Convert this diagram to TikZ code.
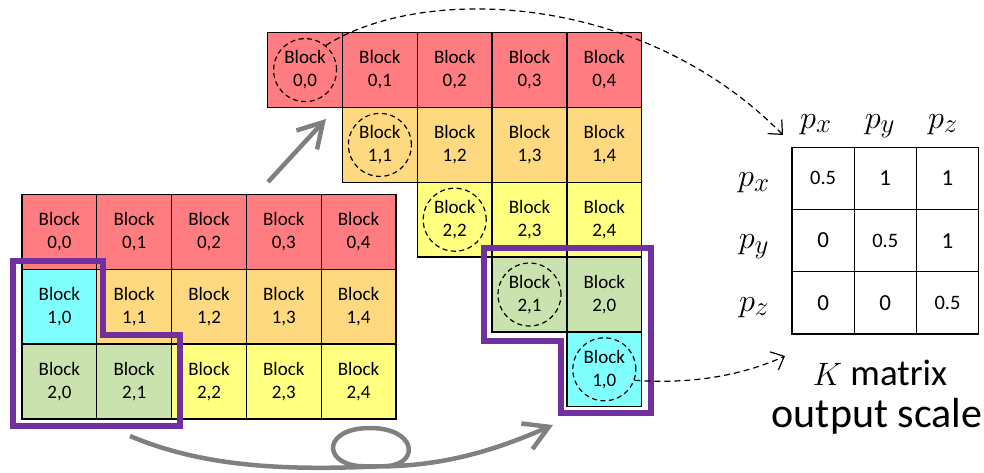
\documentclass[tikz,border=0pt]{standalone}
\usepackage{graphicx}
\usepackage{fontspec}
\setmainfont{Carlito}
\usetikzlibrary{arrows.meta}

\definecolor{blkred}{HTML}{FF7C80}
\definecolor{blkorange}{HTML}{FFD97F}
\definecolor{blkyellow}{HTML}{FFFF80}
\definecolor{blkgreen}{HTML}{C9E2AE}
\definecolor{blkcyan}{HTML}{80FFFF}
\definecolor{loopgray}{HTML}{808080}
\definecolor{groupviolet}{HTML}{7030A0}

% math symbol enlarged beyond the largest design size
\newcommand{\bigmath}[2]{{\fontsize{24.88}{28}\selectfont\scalebox{#1}{$#2$}}}

\begin{document}
\begin{tikzpicture}[x=1pt,y=-1pt,
  cell/.style={draw=black,line width=1.3pt,minimum size=74.8pt,inner sep=0pt,
    align=center,font=\fontsize{19}{23}\selectfont},
  ring/.style={draw=black,dash pattern=on 5pt off 3.5pt,line width=1.2pt,
    circle,minimum size=63pt,inner sep=0pt},
  kcell/.style={draw=black,line width=1.3pt,minimum size=62.2pt,inner sep=0pt},
  bignum/.style={font=\fontsize{23}{25}\selectfont},
  halfnum/.style={font=\fontsize{20.5}{22}\selectfont},
  axislbl/.style={anchor=base,inner sep=0pt},
  caption/.style={anchor=base,inner sep=0pt,font=\fontsize{37}{40}\selectfont},
  bigcaption/.style={anchor=base,inner sep=0pt,font=\fontsize{42}{45}\selectfont},
  group/.style={draw=groupviolet,line width=6pt,line join=miter},
  moveto/.style={draw=loopgray,line width=4.5pt,
    -{Straight Barb[length=24pt,width=28pt]}},
  pointer/.style={draw=black,line width=1.2pt,dash pattern=on 6pt off 4pt,
    -{Straight Barb[length=11pt,width=20pt]}}
]
\useasboundingbox (0,0) rectangle (984,472);

% original block grid
\foreach \r/\c/\col in {0/0/blkred,0/1/blkred,0/2/blkred,0/3/blkred,0/4/blkred,
    1/0/blkcyan,1/1/blkorange,1/2/blkorange,1/3/blkorange,1/4/blkorange,
    2/0/blkgreen,2/1/blkgreen,2/2/blkyellow,2/3/blkyellow,2/4/blkyellow}
  \node[cell,fill=\col] (L\r\c) at ({22+(\c+0.5)*74.8},{194.5+(\r+0.5)*74.8}) {Block\\\r,\c};

% reordered blocks: label row/col, then grid row/col
\foreach \r/\c/\gr/\gc/\col in {0/0/0/0/blkred,0/1/0/1/blkred,0/2/0/2/blkred,
    0/3/0/3/blkred,0/4/0/4/blkred,
    1/1/1/1/blkorange,1/2/1/2/blkorange,1/3/1/3/blkorange,1/4/1/4/blkorange,
    2/2/2/2/blkyellow,2/3/2/3/blkyellow,2/4/2/4/blkyellow,
    2/1/3/3/blkgreen,2/0/3/4/blkgreen,1/0/4/4/blkcyan}
  \node[cell,fill=\col] (R\r\c) at ({267.7+(\gc+0.5)*74.8},{32.7+(\gr+0.5)*74.8}) {Block\\\r,\c};

% diagonal blocks that are marked
\foreach \b in {00,11,22,21,10}
  \node[ring] (C\b) at (R\b) {};

% groups of blocks moved together
\draw[group] (13,261) -- (103,261) -- (103,334.5) -- (179.7,334.5)
  -- (179.7,426) -- (13,426) -- cycle;
\draw[group] (484,247.5) -- (651,247.5) -- (651,412.5) -- (560.5,412.5)
  -- (560.5,340.5) -- (484,340.5) -- cycle;

% gray movement arrows
\coordinate (upA) at (268,182);
\coordinate (upB) at (326,119);
\draw[moveto] (upA) -- (upB);
\coordinate (swA) at (130,436);
\coordinate (swB) at (553,425);
\draw[moveto] (swA) .. controls (210,470) and (300,470) .. (388,466)
  .. controls (420,463) and (416,428) .. (370,428)
  .. controls (324,428) and (322,462) .. (358,466)
  .. controls (440,470) and (500,448) .. (swB);

% K matrix
\foreach \i in {0,1,2}
  \foreach \j in {0,1,2}
    \node[kcell] (K\i\j) at ({823.1+\j*62.2},{178.4+\i*62.2}) {};
\node[halfnum] at (K00) {0.5};
\node[bignum]  at (K01) {1};
\node[bignum]  at (K02) {1};
\node[bignum]  at (K10) {0};
\node[halfnum] at (K11) {0.5};
\node[bignum]  at (K12) {1};
\node[bignum]  at (K20) {0};
\node[bignum]  at (K21) {0};
\node[halfnum] at (K22) {0.5};

\node[axislbl] (hx) at (816,128) {\bigmath{1.3}{p_x}};
\node[axislbl] (hy) at (880,128) {\bigmath{1.3}{p_y}};
\node[axislbl] (hz) at (943,128) {\bigmath{1.3}{p_z}};
\node[axislbl] (vx) at (754,186.7) {\bigmath{1.3}{p_x}};
\node[axislbl] (vy) at (754,248.9) {\bigmath{1.3}{p_y}};
\node[axislbl] (vz) at (754,311.1) {\bigmath{1.3}{p_z}};

\node[caption] (cap1) at (880,385) {\bigmath{1.3}{K} matrix};
\node[bigcaption] (cap2) at (877,427) {output scale};

% dashed pointers to the matrix
\coordinate (kin) at (783,135);
\coordinate (kout) at (785,356);
\draw[pointer] (C00.50) .. controls (420,-15) and (640,-10) .. (kin);
\draw[pointer] (C10.-20) .. controls (700,385) and (750,372) .. (kout);
\end{tikzpicture}
\end{document}
